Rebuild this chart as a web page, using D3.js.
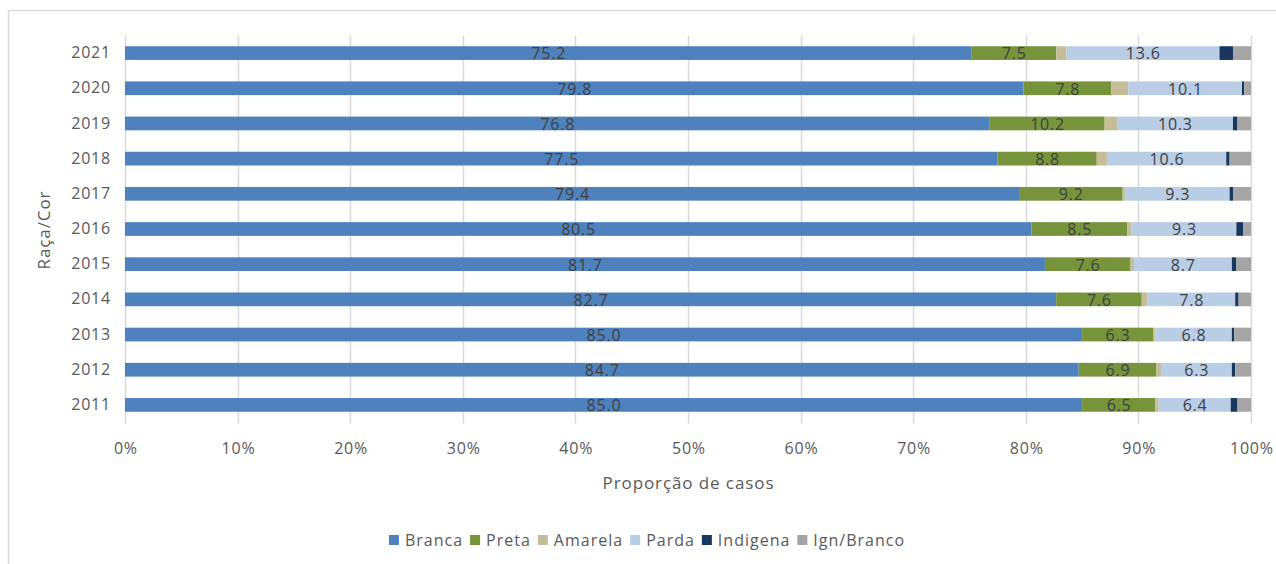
<!DOCTYPE html>
<html>
<head>
<meta charset="utf-8">
<script src="https://cdn.jsdelivr.net/npm/d3@7"></script>
<style>
  html, body { margin: 0; padding: 0; background: #fff; }
  svg { display: block; font-family: "Open Sans", "Noto Sans", sans-serif; }
</style>
</head>
<body>
<svg id="chart" width="1276" height="564"></svg>
<script>
// Anos (de baixo para cima no gráfico)
const years = ["2011", "2012", "2013", "2014", "2015", "2016", "2017", "2018", "2019", "2020", "2021"];
const seriesNames = ["Branca", "Preta", "Amarela", "Parda", "Indigena", "Ign/Branco"];
const seriesColors = ["#4f81bd", "#77933c", "#c4bd97", "#b9cde5", "#17375e", "#a5a5a5"];
// Percentual de casos por raça/cor, um array por série, na ordem dos anos
const branca    = [85.0, 84.7, 85.0, 82.7, 81.7, 80.5, 79.4, 77.5, 76.8, 79.8, 75.2];
const preta     = [6.5, 6.9, 6.3, 7.6, 7.6, 8.5, 9.2, 8.8, 10.2, 7.8, 7.5];
const amarela   = [0.3, 0.4, 0.2, 0.5, 0.3, 0.4, 0.2, 0.9, 1.1, 1.5, 0.9];
const parda     = [6.4, 6.3, 6.8, 7.8, 8.7, 9.3, 9.3, 10.6, 10.3, 10.1, 13.6];
const indigena  = [0.6, 0.3, 0.2, 0.3, 0.4, 0.6, 0.3, 0.3, 0.4, 0.2, 1.2];
const ignBranco = [1.2, 1.4, 1.5, 1.1, 1.3, 0.7, 1.6, 1.9, 1.2, 0.6, 1.6];
const xTicks = [0, 10, 20, 30, 40, 50, 60, 70, 80, 90, 100];
// Séries que recebem rótulo de valor
const labeledSeries = ["Branca", "Preta", "Parda"];

const seriesValues = [branca, preta, amarela, parda, indigena, ignBranco];
const rows = years.map((y, i) => {
  const r = { year: y };
  seriesNames.forEach((s, k) => { r[s] = seriesValues[k][i]; });
  return r;
});

const svg = d3.select("#chart");
const W = 1276, H = 564;
const textGray = "#595959";

// Moldura da área do gráfico
svg.append("rect")
  .attr("x", 8.5).attr("y", 10.5)
  .attr("width", W + 20).attr("height", H + 20)
  .attr("fill", "none").attr("stroke", "#d9d9d9").attr("stroke-width", 1.5);

const plot = { left: 125, right: 1251, top: 35.5, bottom: 422.5 };

const x = d3.scaleLinear().domain([0, 100]).range([plot.left, plot.right]);
const y = d3.scaleBand()
  .domain(years.slice().reverse())
  .range([plot.top, plot.bottom])
  .paddingInner(0.61)
  .paddingOuter(0.305);

const color = d3.scaleOrdinal().domain(seriesNames).range(seriesColors);

// Linhas de grade verticais
svg.append("g").selectAll("line")
  .data(xTicks)
  .join("line")
  .attr("x1", d => Math.round(x(d)) + 0.5)
  .attr("x2", d => Math.round(x(d)) + 0.5)
  .attr("y1", plot.top)
  .attr("y2", plot.bottom + 1)
  .attr("stroke", "#d9d9d9")
  .attr("stroke-width", 1.5);

// Barras empilhadas
const stack = d3.stack().keys(seriesNames);
const layers = stack(rows);

const layerG = svg.append("g").selectAll("g")
  .data(layers)
  .join("g")
  .attr("fill", d => color(d.key));

layerG.selectAll("rect")
  .data(d => d)
  .join("rect")
  .attr("x", d => x(d[0]))
  .attr("width", d => Math.max(0, x(d[1]) - x(d[0])))
  .attr("y", d => y(d.data.year))
  .attr("height", y.bandwidth());

// Rótulos de valor
const labelG = svg.append("g")
  .attr("font-size", 16)
  .attr("letter-spacing", 0.8)
  .attr("fill", "#404040")
  .attr("text-anchor", "middle");

layers.filter(l => labeledSeries.includes(l.key)).forEach(l => {
  labelG.selectAll(null)
    .data(l)
    .join("text")
    .attr("x", d => (x(d[0]) + x(d[1])) / 2 + 0.4)
    .attr("y", d => y(d.data.year) + y.bandwidth() / 2)
    .attr("dy", "0.4em")
    .text(d => d3.format(".1f")(d[1] - d[0]));
});

// Eixo Y (anos)
const yAxis = d3.axisLeft(y).tickSize(0).tickPadding(14);
const yg = svg.append("g")
  .attr("transform", `translate(${plot.left},0)`)
  .call(yAxis);
yg.select(".domain").remove();
yg.selectAll("text")
  .attr("font-size", 16)
  .attr("letter-spacing", 0.8)
  .attr("font-family", "Open Sans, Noto Sans, sans-serif")
  .attr("fill", textGray);

// Eixo X (percentuais)
const xAxis = d3.axisBottom(x).tickValues(xTicks).tickFormat(d => d + "%").tickSize(0).tickPadding(20);
const xg = svg.append("g")
  .attr("transform", `translate(0,${plot.bottom})`)
  .call(xAxis);
xg.select(".domain").remove();
xg.selectAll("text")
  .attr("font-size", 16)
  .attr("letter-spacing", 0.8)
  .attr("dx", 0.4)
  .attr("font-family", "Open Sans, Noto Sans, sans-serif")
  .attr("fill", textGray);

// Títulos dos eixos
svg.append("text")
  .attr("x", (plot.left + plot.right) / 2 + 0.5)
  .attr("y", 489)
  .attr("text-anchor", "middle")
  .attr("font-size", 17)
  .attr("letter-spacing", 0.9)
  .attr("fill", textGray)
  .text("Proporção de casos");

svg.append("text")
  .attr("transform", "translate(50,230) rotate(-90)")
  .attr("text-anchor", "middle")
  .attr("font-size", 17)
  .attr("letter-spacing", 0.9)
  .attr("fill", textGray)
  .text("Raça/Cor");

// Legenda
const legend = svg.append("g");
const items = legend.selectAll("g")
  .data(seriesNames)
  .join("g");
items.append("rect")
  .attr("width", 10).attr("height", 10)
  .attr("y", -5)
  .attr("fill", d => color(d));
items.append("text")
  .attr("x", 16)
  .attr("dy", "0.36em")
  .attr("font-size", 16)
  .attr("letter-spacing", 1)
  .attr("fill", textGray)
  .text(d => d);

let cursor = 0;
items.each(function () {
  const g = d3.select(this);
  g.attr("transform", `translate(${cursor},0)`);
  const tw = g.select("text").node().getComputedTextLength();
  cursor += 16 + tw + 7;
});
const total = cursor - 7;
legend.attr("transform", `translate(${647 - total / 2},540)`);
</script>
</body>
</html>
